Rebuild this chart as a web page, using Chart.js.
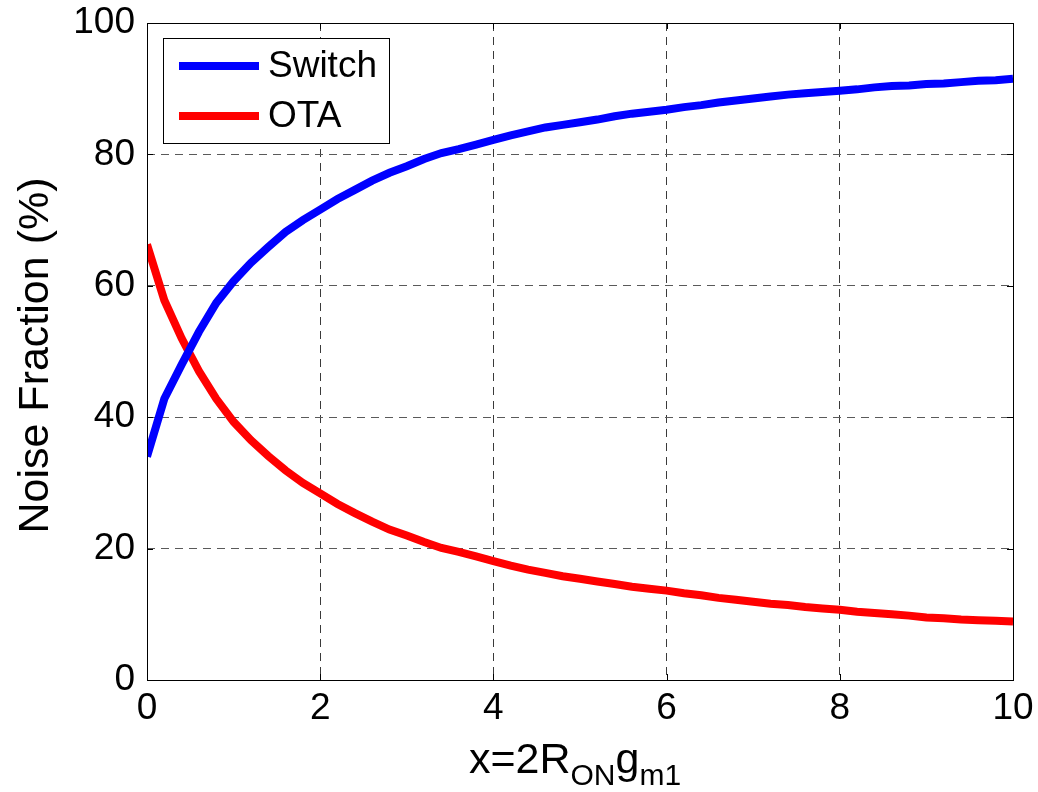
<!DOCTYPE html>
<html>
<head>
<meta charset="utf-8">
<script src="https://cdn.jsdelivr.net/npm/chart.js@4.4.0/dist/chart.umd.min.js"></script>
<style>
  html, body { margin: 0; padding: 0; background: #fff; }
</style>
</head>
<body>
<canvas id="noiseChart" width="1038" height="792"></canvas>
<script>
// valores
const xValues = [0, 0.2, 0.4, 0.6, 0.8, 1, 1.2, 1.4, 1.6, 1.8,
                 2, 2.2, 2.4, 2.6, 2.8, 3, 3.2, 3.4, 3.6, 3.8,
                 4, 4.2, 4.4, 4.6, 4.8, 5, 5.2, 5.4, 5.6, 5.8,
                 6, 6.2, 6.4, 6.6, 6.8, 7, 7.2, 7.4, 7.6, 7.8,
                 8, 8.2, 8.4, 8.6, 8.8, 9, 9.2, 9.4, 9.6, 9.8, 10];
const switchValues = [34.0, 42.8, 48.0, 53.0, 57.4, 60.7, 63.5, 65.9, 68.2, 70.0,
                      71.6, 73.2, 74.6, 76.0, 77.2, 78.2, 79.3, 80.2, 80.8, 81.5,
                      82.2, 82.9, 83.5, 84.1, 84.5, 84.9, 85.3, 85.8, 86.2, 86.5,
                      86.8, 87.2, 87.5, 87.9, 88.2, 88.5, 88.8, 89.1, 89.3, 89.5,
                      89.7, 89.9, 90.2, 90.4, 90.5, 90.7, 90.8, 91.0, 91.2, 91.3, 91.5];
const otaValues = [66.3, 57.8, 52.0, 47.0, 42.8, 39.3, 36.5, 34.1, 31.9, 30.0,
                   28.4, 26.8, 25.4, 24.1, 22.9, 22.0, 21.0, 20.1, 19.5, 18.8,
                   18.1, 17.4, 16.8, 16.3, 15.8, 15.4, 15.0, 14.6, 14.2, 13.9,
                   13.6, 13.2, 12.9, 12.5, 12.2, 11.9, 11.6, 11.4, 11.1, 10.9,
                   10.7, 10.4, 10.2, 10.0, 9.8, 9.5, 9.4, 9.2, 9.1, 9.0, 8.9];
const xTicks = [0, 2, 4, 6, 8, 10];
const yTicks = [0, 20, 40, 60, 80, 100];
const seriesNames = ['Switch', 'OTA'];
const seriesColors = ['#0000ff', '#ff0000'];

const FONT = '"Liberation Sans", Arial, Helvetica, sans-serif';

// moldura, marcas internas, legenda e títulos no estilo MATLAB
const matlabStyle = {
    id: 'matlabStyle',
    afterDraw(chart) {
        const ctx = chart.ctx;
        const a = chart.chartArea;
        const xs = chart.scales.x, ys = chart.scales.y;
        ctx.save();

        // marcas de escala para dentro
        ctx.strokeStyle = '#000';
        ctx.lineWidth = 1;
        ctx.beginPath();
        xTicks.forEach(v => {
            const px = Math.round(xs.getPixelForValue(v)) + 0.5;
            ctx.moveTo(px, a.bottom); ctx.lineTo(px, a.bottom - 6);
            ctx.moveTo(px, a.top); ctx.lineTo(px, a.top + 6);
        });
        yTicks.forEach(v => {
            const py = Math.round(ys.getPixelForValue(v)) + 0.5;
            ctx.moveTo(a.left, py); ctx.lineTo(a.left + 6, py);
            ctx.moveTo(a.right, py); ctx.lineTo(a.right - 6, py);
        });
        ctx.stroke();

        // moldura
        ctx.strokeRect(Math.round(a.left) + 0.5, Math.round(a.top) + 0.5,
                       Math.round(a.right - a.left), Math.round(a.bottom - a.top));

        // legenda
        const lx = 163.5, ly = 38.5, lw = 226, lh = 105;
        ctx.fillStyle = '#fff';
        ctx.fillRect(lx, ly, lw, lh);
        ctx.strokeStyle = '#000';
        ctx.strokeRect(lx, ly, lw, lh);
        ctx.font = '37px ' + FONT;
        ctx.textBaseline = 'middle';
        ctx.textAlign = 'left';
        seriesNames.forEach((name, i) => {
            const yy = 66 + i * 50;
            ctx.strokeStyle = seriesColors[i];
            ctx.lineWidth = 8;
            ctx.beginPath();
            ctx.moveTo(179, yy); ctx.lineTo(259, yy);
            ctx.stroke();
            ctx.fillStyle = '#000';
            ctx.fillText(name, 268, yy + 1);
        });

        // título do eixo y
        ctx.save();
        ctx.translate(48, 355.5);
        ctx.rotate(-Math.PI / 2);
        ctx.font = '43px ' + FONT;
        ctx.textAlign = 'center';
        ctx.textBaseline = 'alphabetic';
        ctx.fillStyle = '#000';
        ctx.fillText('Noise Fraction (%)', 0, 0);
        ctx.restore();

        // título do eixo x com subscritos
        const parts = [
            { t: 'x=2R', size: 43, dy: 0 },
            { t: 'ON', size: 30, dy: 12 },
            { t: 'g', size: 43, dy: 0 },
            { t: 'm1', size: 30, dy: 12 }
        ];
        let total = 0;
        parts.forEach(p => { ctx.font = p.size + 'px ' + FONT; p.w = ctx.measureText(p.t).width; total += p.w; });
        let cx = 575 - total / 2;
        const base = 773;
        ctx.textAlign = 'left';
        ctx.textBaseline = 'alphabetic';
        ctx.fillStyle = '#000';
        parts.forEach(p => {
            ctx.font = p.size + 'px ' + FONT;
            ctx.fillText(p.t, cx, base + p.dy);
            cx += p.w;
        });

        ctx.restore();
    }
};

function createChart() {
    const ctx = document.getElementById('noiseChart').getContext('2d');
    const gridDash = { display: false, dash: [8, 6] };

    new Chart(ctx, {
        type: 'line',
        data: {
            datasets: [
                {
                    label: seriesNames[0],
                    data: xValues.map((x, i) => ({ x: x, y: switchValues[i] })),
                    borderColor: seriesColors[0],
                    borderWidth: 8,
                    pointRadius: 0,
                    tension: 0,
                    fill: false
                },
                {
                    label: seriesNames[1],
                    data: xValues.map((x, i) => ({ x: x, y: otaValues[i] })),
                    borderColor: seriesColors[1],
                    borderWidth: 8,
                    pointRadius: 0,
                    tension: 0,
                    fill: false
                }
            ]
        },
        options: {
            responsive: false,
            animation: false,
            devicePixelRatio: 1,
            layout: { padding: { top: 23, right: 25, left: 0, bottom: 0 } },
            plugins: {
                legend: { display: false },
                tooltip: { enabled: false }
            },
            scales: {
                x: {
                    type: 'linear',
                    min: 0,
                    max: 10,
                    afterBuildTicks: s => { s.ticks = xTicks.map(v => ({ value: v })); },
                    afterFit: s => { s.height = 112; s.paddingLeft = 0; s.paddingRight = 0; },
                    grid: { color: '#3a3a3a', lineWidth: 1, drawTicks: false },
                    border: gridDash,
                    ticks: {
                        color: '#000',
                        padding: 7,
                        maxRotation: 0,
                        font: { family: FONT, size: 37 }
                    }
                },
                y: {
                    type: 'linear',
                    min: 0,
                    max: 100,
                    afterBuildTicks: s => { s.ticks = yTicks.map(v => ({ value: v })); },
                    afterFit: s => { s.width = 147; s.paddingTop = 0; s.paddingBottom = 0; },
                    grid: { color: '#5a5a5a', lineWidth: 1, drawTicks: false },
                    border: gridDash,
                    ticks: {
                        color: '#000',
                        padding: 12,
                        font: { family: FONT, size: 37 }
                    }
                }
            }
        },
        plugins: [matlabStyle]
    });
}

window.onload = createChart;
</script>
</body>
</html>
